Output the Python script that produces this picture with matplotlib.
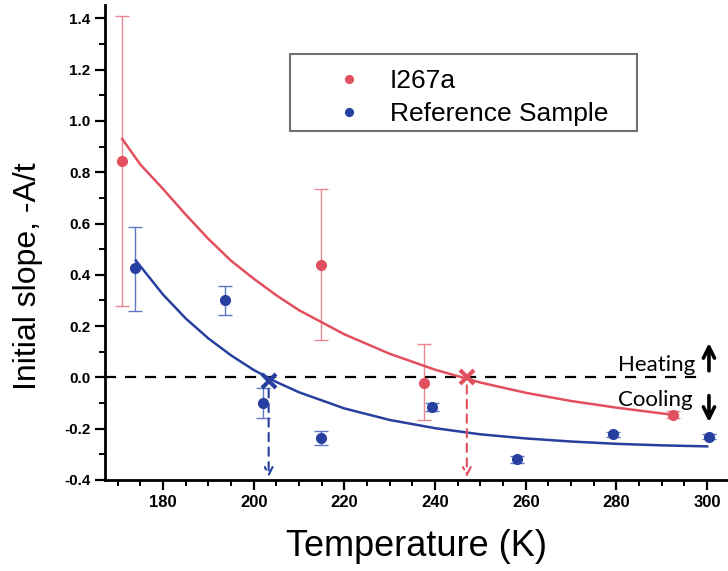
import numpy as np
import matplotlib
matplotlib.use('Agg')
import matplotlib.pyplot as plt
from matplotlib.ticker import MultipleLocator
from matplotlib.patches import Rectangle

# Measured points, I267a
t_red = [170.9, 214.9, 237.6, 292.4]
y_red = [0.845, 0.44, -0.02, -0.145]
lo_red = [0.28, 0.145, -0.165, -0.16]
hi_red = [1.41, 0.735, 0.13, -0.13]

# Measured points, reference sample
t_blue = [173.8, 193.7, 202.1, 214.9, 239.4, 258.1, 279.3, 300.5]
y_blue = [0.425, 0.30, -0.10, -0.235, -0.115, -0.32, -0.222, -0.232]
lo_blue = [0.26, 0.245, -0.16, -0.265, -0.13, -0.335, -0.232, -0.242]
hi_blue = [0.585, 0.355, -0.04, -0.21, -0.10, -0.305, -0.212, -0.222]

# Fit curves
fit_t_red = [171, 175, 180, 185, 190, 195, 200, 205, 210, 220, 230, 240, 250, 260, 270, 280, 292]
fit_y_red = [0.93, 0.83, 0.735, 0.635, 0.54, 0.455, 0.385, 0.32, 0.262, 0.168, 0.092, 0.03,
             -0.02, -0.06, -0.092, -0.118, -0.145]
fit_t_blue = [174, 180, 185, 190, 195, 200, 205, 210, 220, 230, 240, 250, 260, 270, 280, 290, 300]
fit_y_blue = [0.456, 0.323, 0.23, 0.152, 0.086, 0.029, -0.018, -0.058, -0.121, -0.166, -0.198,
              -0.222, -0.238, -0.25, -0.259, -0.265, -0.269]

# zero crossings
cross_red = (247.0, 0.0)
cross_blue = (203.3, -0.015)

RED = '#e2505f'
BLUE = '#27409f'
RED_ERR = '#e98795'
BLUE_ERR = '#5f78c4'

plt.rcParams['font.family'] = ['Liberation Sans', 'DejaVu Sans']

fig = plt.figure(figsize=(7.28, 5.71), dpi=100)
ax = fig.add_axes([0.1442, 0.1594, 0.8558, 0.8318])

def errs(y, lo, hi):
    y = np.array(y)
    return [y - np.array(lo), np.array(hi) - y]

ax.errorbar(t_red, y_red, yerr=errs(y_red, lo_red, hi_red), fmt='none',
            ecolor=RED_ERR, elinewidth=1, capsize=5, capthick=1, zorder=2)
ax.errorbar(t_blue, y_blue, yerr=errs(y_blue, lo_blue, hi_blue), fmt='none',
            ecolor=BLUE_ERR, elinewidth=1, capsize=5, capthick=1, zorder=2)

ax.plot(fit_t_red, fit_y_red, color=RED, lw=1.8, zorder=3)
ax.plot(fit_t_blue, fit_y_blue, color=BLUE, lw=1.8, zorder=3)

ax.plot(t_red, y_red, 'o', color=RED, ms=7, label='I267a', zorder=4)
ax.plot(t_blue, y_blue, 'o', color=BLUE, ms=7, label='Reference Sample', zorder=4)

# zero line
ax.plot([167.2, 299.5], [0, 0], ls=(0, (5, 4)), color='black', lw=1.6, zorder=1)

# crossing markers with dashed arrows
for (cx, cy), c in ((cross_red, RED), (cross_blue, BLUE)):
    ax.plot(cx, cy, 'x', color=c, ms=10, mew=3, zorder=5)
    ax.annotate('', xy=(cx, -0.4), xytext=(cx, cy - 0.02),
                arrowprops=dict(arrowstyle='->', color=c, lw=1.5, ls=(0, (4, 3)),
                                mutation_scale=14), zorder=5)

ax.text(280.4, 0.047, 'Heating', family=['Lato', 'DejaVu Sans'], fontsize=16,
        ha='left', va='center')
ax.text(280.4, -0.09, 'Cooling', family=['Lato', 'DejaVu Sans'], fontsize=16,
        ha='left', va='center')
ax.annotate('', xy=(300.4, 0.145), xytext=(300.4, 0.015),
            arrowprops=dict(arrowstyle='->', color='black', lw=2.6, mutation_scale=20))
ax.annotate('', xy=(300.4, -0.185), xytext=(300.4, -0.06),
            arrowprops=dict(arrowstyle='->', color='black', lw=2.6, mutation_scale=20))

ax.set_xlim(167.2, 304.6)
ax.set_ylim(-0.4, 1.452)
ax.xaxis.set_minor_locator(MultipleLocator(5))
ax.yaxis.set_minor_locator(MultipleLocator(0.1))
ax.set_yticks(np.arange(-0.4, 1.41, 0.2))
ax.set_yticklabels(['%.1f' % v for v in np.arange(-0.4, 1.41, 0.2)])
ax.set_xticks(np.arange(180, 301, 20))

for s in ('top', 'right'):
    ax.spines[s].set_visible(False)
for s in ('left', 'bottom'):
    ax.spines[s].set_linewidth(2)

ax.tick_params(axis='both', which='major', direction='out', length=7, width=1.6)
ax.tick_params(axis='both', which='minor', direction='out', length=4, width=1.4)
for lab in ax.get_xticklabels():
    lab.set_fontweight('bold')
    lab.set_fontsize(12)
for lab in ax.get_yticklabels():
    lab.set_fontweight('bold')
    lab.set_fontsize(11)

ax.set_xlabel('Temperature (K)', fontsize=26, labelpad=14)
ax.set_ylabel('Initial slope, -A/t', fontsize=23)
ax.yaxis.set_label_coords(-0.1, 0.43)

# legend frame drawn separately so the padding matches
fig.patches.append(Rectangle((0.398, 0.7706), 0.477, 0.1348, transform=fig.transFigure,
                             facecolor='white', edgecolor='#707070', lw=1.5, zorder=6))
leg = fig.legend(loc='center left', bbox_to_anchor=(0.4609, 0.8293), fontsize=19,
                 frameon=False, handlelength=1.0, handletextpad=1.05, borderpad=0,
                 borderaxespad=0, labelspacing=0.34, markerscale=0.8)
leg.set_zorder(7)

fig.savefig('out.png', dpi=100)
